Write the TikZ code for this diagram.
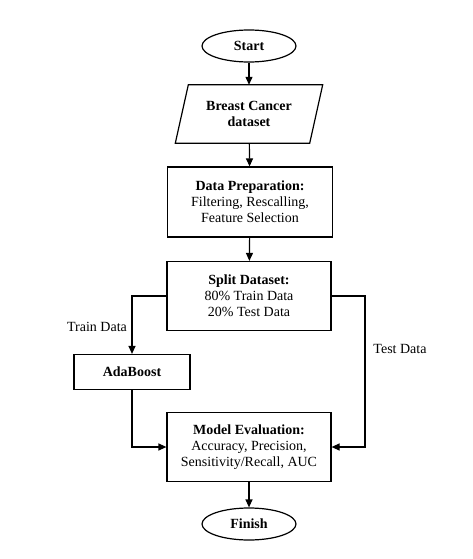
\documentclass[tikz,border=0pt]{standalone}
\usepackage{fontspec}
\setmainfont{Liberation Serif}
\usetikzlibrary{shapes.geometric,arrows.meta,calc}
\begin{document}
\begin{tikzpicture}[x=1pt,y=-1pt,
  every node/.style={font=\fontsize{14}{16}\selectfont, align=center, inner sep=0pt},
  term/.style={draw, line width=1.2pt, ellipse, minimum width=94pt, minimum height=32pt},
  procbox/.style={draw, line width=1.2pt, rectangle},
  arr/.style={line width=1.2pt, -{Triangle[length=8pt,width=7pt]}},
  lbl/.style={font=\fontsize{14}{16}\selectfont}]
\useasboundingbox[fill=white] (0,0) rectangle (473,559);
\node[term] (start) at (249,46) {\textbf{Start}};
\node[minimum width=134pt, minimum height=58pt] (data) at (249,114) {\textbf{Breast Cancer}\\\textbf{dataset}};
\draw[line width=1.2pt] ($(data.north west)+(6.5,0)$) -- ($(data.north east)+(6.5,0)$) -- ($(data.south east)+(-6.5,0)$) -- ($(data.south west)+(-6.5,0)$) -- cycle;
\node[procbox, minimum width=165pt, minimum height=70pt] (prep) at (250,202) {\textbf{Data Preparation:}\\Filtering, Rescalling,\\Feature Selection};
\node[procbox, minimum width=164pt, minimum height=69pt] (split) at (249,296) {\textbf{Split Dataset:}\\80\% Train Data\\20\% Test Data};
\node[procbox, minimum width=116pt, minimum height=35pt] (ada) at (132,372) {\textbf{AdaBoost}};
\node[procbox, minimum width=164pt, minimum height=69pt] (eval) at (249,447) {\textbf{Model Evaluation:}\\Accuracy, Precision,\\Sensitivity/Recall, AUC};
\node[term] (finish) at (249,524) {\textbf{Finish}};
\coordinate (tr) at (365,296);
\draw[arr] (start) -- (data);
\draw[arr] (data) -- (prep);
\draw[arr] (prep) -- (split);
\draw[arr] (split.west) -| (ada.north);
\draw[arr] (split.east) -- (tr) |- (eval.east);
\draw[arr] (ada.south) |- (eval.west);
\draw[arr] (eval) -- (finish);
\node[lbl] (trainlbl) at (97,327) {Train Data};
\node[lbl] (testlbl) at (400,349) {Test Data};
\end{tikzpicture}
\end{document}
